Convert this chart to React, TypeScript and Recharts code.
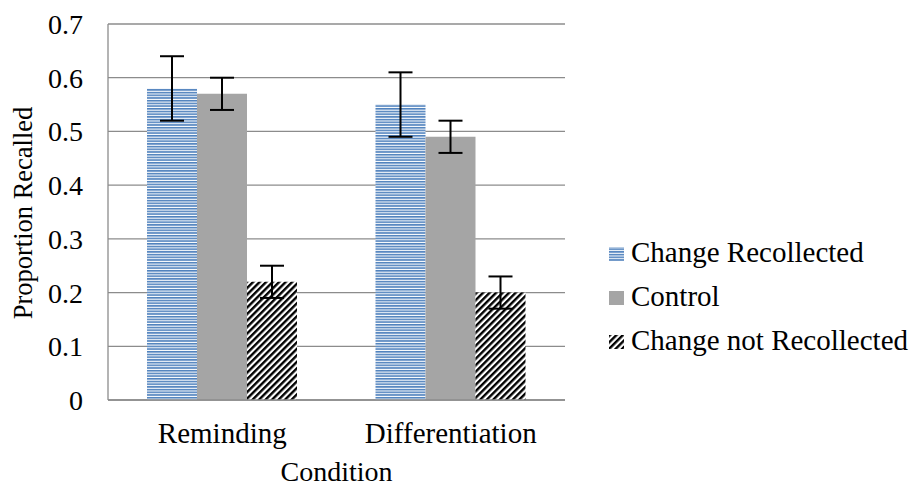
import React from 'react';
import { BarChart, Bar, XAxis, YAxis, CartesianGrid, ErrorBar, Label } from 'recharts';

const categories = ['Reminding', 'Differentiation'];
const changeRecollected = [0.58, 0.55];
const changeRecollectedErr = [0.06, 0.06];
const control = [0.57, 0.49];
const controlErr = [0.03, 0.03];
const changeNotRecollected = [0.22, 0.2];
const changeNotRecollectedErr = [0.03, 0.03];
const yTicks = [0, 0.1, 0.2, 0.3, 0.4, 0.5, 0.6, 0.7];

const data = categories.map((c, i) => ({
  name: c,
  cr: changeRecollected[i],
  crErr: changeRecollectedErr[i],
  ctl: control[i],
  ctlErr: controlErr[i],
  cnr: changeNotRecollected[i],
  cnrErr: changeNotRecollectedErr[i],
}));

const FONT = '"Liberation Serif", "Times New Roman", serif';
const BLUE = '#4F81BD';
const GRAY = '#A5A5A5';
const AXIS = '#8c8c8c';

const legendItems = [
  { label: 'Change Recollected', fill: 'url(#hstripeL)' },
  { label: 'Control', fill: GRAY },
  { label: 'Change not Recollected', fill: 'url(#hatchL)' },
];

const Patterns = ({ suffix }: { suffix: string }) => (
  <defs>
    <pattern id={'hstripe' + suffix} patternUnits="userSpaceOnUse" width={8} height={2.7}>
      <rect x={0} y={0} width={8} height={2.7} fill="#ffffff" />
      <rect x={0} y={0} width={8} height={1.6} fill={BLUE} />
    </pattern>
    <pattern id={'hatch' + suffix} patternUnits="userSpaceOnUse" width={4.6} height={8} patternTransform="rotate(45)">
      <rect x={0} y={0} width={4.6} height={8} fill="#ffffff" />
      <rect x={0} y={0} width={2.4} height={8} fill="#000000" />
    </pattern>
  </defs>
);

const XTick = (props: any) => (
  <text x={props.x} y={props.y + 43} textAnchor="middle" fontFamily={FONT} fontSize={29} fill="#000">
    {props.payload.value}
  </text>
);

const YTick = (props: any) => (
  <text x={props.x - 25} y={props.y + 10} textAnchor="end" fontFamily={FONT} fontSize={28} fill="#000">
    {props.payload.value}
  </text>
);

const YTitle = (props: any) => {
  const vb = props.viewBox;
  const x = vb.x + 32;
  const y = vb.y + vb.height / 2 + 1;
  return (
    <text x={x} y={y} transform={`rotate(-90, ${x}, ${y})`} textAnchor="middle" fontFamily={FONT} fontSize={26.5} fill="#000">
      Proportion Recalled
    </text>
  );
};

const XTitle = (props: any) => {
  const vb = props.viewBox;
  return (
    <text x={vb.x + vb.width / 2} y={vb.y + 81} textAnchor="middle" fontFamily={FONT} fontSize={28} fill="#000">
      Condition
    </text>
  );
};

export default function App() {
  return (
    <div style={{ position: 'absolute', left: 0, top: 0, width: 915, height: 487 }}>
      <BarChart
        width={915}
        height={487}
        data={data}
        margin={{ top: 24, right: 350, bottom: 0, left: 0 }}
        barGap={0}
        barCategoryGap={39}
      >
        <Patterns suffix="" />
        <CartesianGrid vertical={false} stroke={AXIS} strokeWidth={1.3} />
        <XAxis
          dataKey="name"
          height={87}
          axisLine={{ stroke: AXIS, strokeWidth: 1.5 }}
          tickLine={false}
          tickSize={0}
          tickMargin={0}
          tick={<XTick />}
        >
          <Label content={<XTitle />} />
        </XAxis>
        <YAxis
          width={108}
          domain={[0, 0.7]}
          ticks={yTicks}
          interval={0}
          axisLine={{ stroke: AXIS, strokeWidth: 1.3 }}
          tickLine={false}
          tickSize={0}
          tickMargin={0}
          tick={<YTick />}
        >
          <Label content={<YTitle />} />
        </YAxis>
        <Bar dataKey="cr" barSize={50} fill="url(#hstripe)" isAnimationActive={false}>
          <ErrorBar dataKey="crErr" width={12} stroke="#000" strokeWidth={2} />
        </Bar>
        <Bar dataKey="ctl" barSize={50} fill={GRAY} isAnimationActive={false}>
          <ErrorBar dataKey="ctlErr" width={12} stroke="#000" strokeWidth={2} />
        </Bar>
        <Bar dataKey="cnr" barSize={50} fill="url(#hatch)" isAnimationActive={false}>
          <ErrorBar dataKey="cnrErr" width={12} stroke="#000" strokeWidth={2} />
        </Bar>
      </BarChart>
      <svg width={915} height={487} style={{ position: 'absolute', left: 0, top: 0, pointerEvents: 'none' }}>
        <Patterns suffix="L" />
        {legendItems.map((it, i) => (
          <g key={it.label}>
            <rect x={609} y={247 + i * 44} width={15} height={14} fill={it.fill} />
            <text x={631} y={262 + i * 44} fontFamily={FONT} fontSize={29} fill="#000">
              {it.label}
            </text>
          </g>
        ))}
      </svg>
    </div>
  );
}
